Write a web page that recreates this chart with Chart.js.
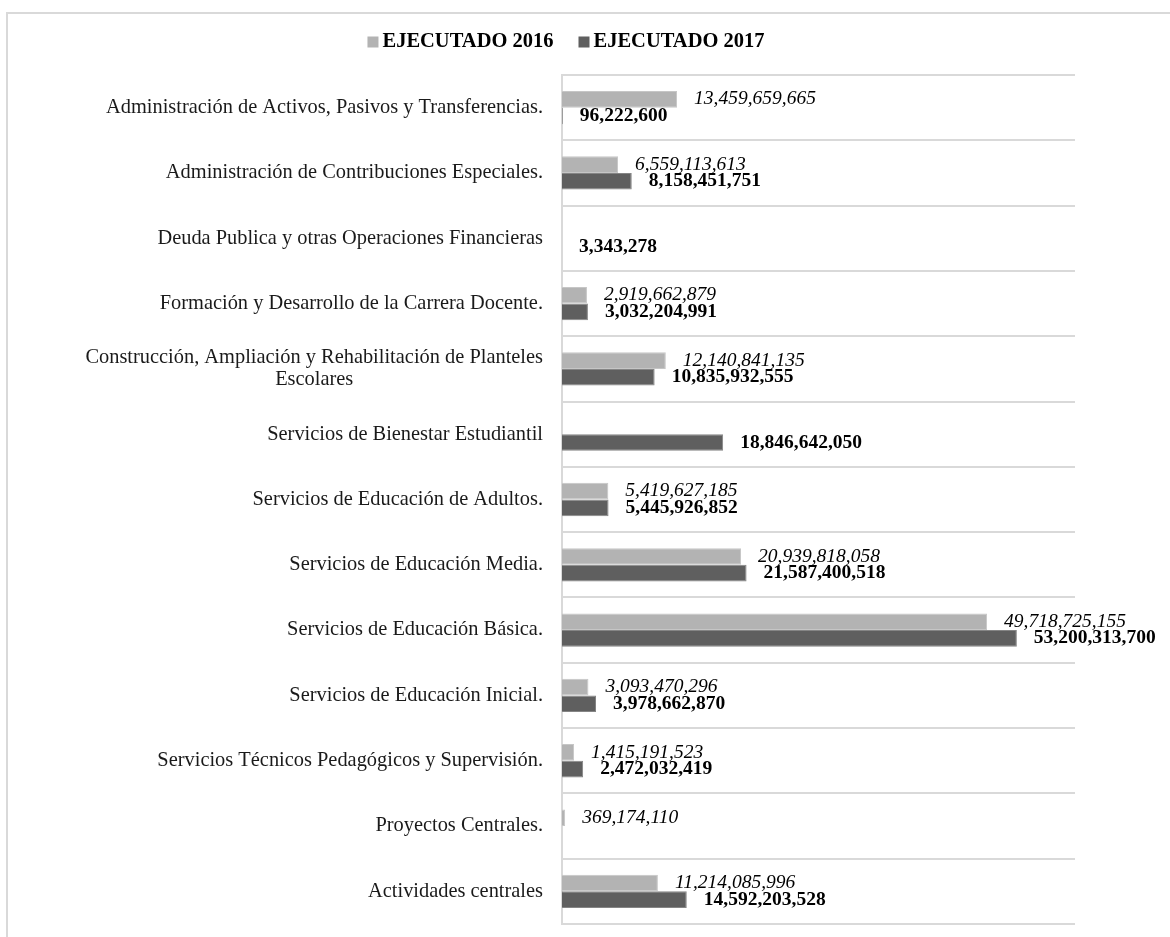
<!DOCTYPE html>
<html>
<head>
<meta charset="utf-8">
<script src="https://cdn.jsdelivr.net/npm/chart.js@4.4.1/dist/chart.umd.min.js"></script>
<style>
  html, body { margin: 0; padding: 0; background: #fff; overflow: hidden; }
  #frame { position: absolute; left: 6px; top: 12px; width: 1300px; height: 1100px; border: 2px solid #d9d9d9; }
  #wrap { position: absolute; left: 0; top: 0; width: 1170px; height: 937px; }
</style>
</head>
<body>
<div id="frame"></div>
<div id="wrap"><canvas id="budget"></canvas></div>
<script>
// programas presupuestarios (de arriba hacia abajo)
var programas = [
  "Administración de Activos, Pasivos y Transferencias.",
  "Administración de Contribuciones Especiales.",
  "Deuda Publica y otras Operaciones Financieras",
  "Formación y Desarrollo de la Carrera Docente.",
  ["Construcción, Ampliación y Rehabilitación de Planteles", "Escolares"],
  "Servicios de Bienestar Estudiantil",
  "Servicios de Educación de Adultos.",
  "Servicios de Educación Media.",
  "Servicios de Educación Básica.",
  "Servicios de Educación Inicial.",
  "Servicios Técnicos Pedagógicos y Supervisión.",
  "Proyectos Centrales.",
  "Actividades centrales"
];

var ejecutado2016 = [13459659665, 6559113613, null, 2919662879, 12140841135, null,
  5419627185, 20939818058, 49718725155, 3093470296, 1415191523, 369174110, 11214085996];

var ejecutado2017 = [96222600, 8158451751, 3343278, 3032204991, 10835932555, 18846642050,
  5445926852, 21587400518, 53200313700, 3978662870, 2472032419, null, 14592203528];

var serif = "'Liberation Serif', 'Times New Roman', serif";

// etiquetas de valores al final de cada barra
var valueLabels = {
  id: 'valueLabels',
  afterDatasetsDraw: function(chart) {
    var ctx = chart.ctx;
    ctx.save();
    ctx.textBaseline = 'middle';
    ctx.textAlign = 'left';
    ctx.fillStyle = '#000';
    chart.data.datasets.forEach(function(ds, di) {
      var meta = chart.getDatasetMeta(di);
      ctx.font = (di === 0 ? 'italic ' : 'bold ') + '19.5px ' + serif;
      meta.data.forEach(function(bar, i) {
        var v = ds.data[i];
        if (v === null || v === undefined) return;
        ctx.fillText(v.toLocaleString('en-US'), bar.x + 17, bar.y);
      });
    });
    ctx.restore();
  }
};

// nombres de categorias (la linea partida va centrada)
var categoryLabels = {
  id: 'categoryLabels',
  afterDraw: function(chart) {
    var ctx = chart.ctx;
    var y = chart.scales.y;
    var right = chart.chartArea.left - 19;
    ctx.save();
    ctx.font = '20.4px ' + serif;
    ctx.fillStyle = '#1a1a1a';
    ctx.textBaseline = 'middle';
    chart.data.labels.forEach(function(lab, i) {
      var py = y.getPixelForTick(i);
      if (Array.isArray(lab)) {
        var w = Math.max.apply(null, lab.map(function(s) { return ctx.measureText(s).width; }));
        var lh = 22;
        ctx.textAlign = 'center';
        lab.forEach(function(s, k) {
          ctx.fillText(s, right - w / 2, py + (k - (lab.length - 1) / 2) * lh);
        });
      } else {
        ctx.textAlign = 'right';
        ctx.fillText(lab, right, py);
      }
    });
    ctx.restore();
  }
};

// leyenda arriba
var topLegend = {
  id: 'topLegend',
  afterDraw: function(chart) {
    var ctx = chart.ctx;
    ctx.save();
    ctx.font = 'bold 20.5px ' + serif;
    ctx.textBaseline = 'middle';
    ctx.textAlign = 'left';
    var box = 11, gap = 4, itemGap = 25;
    var items = chart.data.datasets.map(function(ds) {
      return { text: ds.label, color: ds.backgroundColor, w: box + gap + ctx.measureText(ds.label).width };
    });
    var total = items.reduce(function(a, it) { return a + it.w; }, 0) + itemGap * (items.length - 1);
    var x = 566 - total / 2;
    var cy = 42;
    items.forEach(function(it) {
      ctx.fillStyle = it.color;
      ctx.fillRect(x, cy - box / 2, box, box);
      ctx.fillStyle = '#000';
      ctx.fillText(it.text, x + box + gap, cy);
      x += it.w + itemGap;
    });
    ctx.restore();
  }
};

new Chart('budget', {
  type: 'bar',
  data: {
    labels: programas,
    datasets: [
      {
        label: 'EJECUTADO 2016',
        data: ejecutado2016,
        backgroundColor: '#b3b3b3',
        borderColor: '#c6c6c6',
        borderWidth: 1
      },
      {
        label: 'EJECUTADO 2017',
        data: ejecutado2017,
        backgroundColor: '#5f5f5f',
        borderColor: '#858585',
        borderWidth: 1
      }
    ]
  },
  options: {
    indexAxis: 'y',
    responsive: true,
    maintainAspectRatio: false,
    animation: false,
    layout: {
      padding: { left: 0, right: 95, top: 75, bottom: 13 }
    },
    categoryPercentage: 0.51,
    barPercentage: 1,
    plugins: {
      legend: { display: false },
      tooltip: { enabled: false }
    },
    scales: {
      x: {
        display: false,
        min: 0,
        max: 60000000000
      },
      y: {
        ticks: { display: false },
        grid: {
          offset: true,
          color: '#d9d9d9',
          lineWidth: 2,
          drawTicks: false
        },
        border: { display: true, color: '#d9d9d9', width: 2 },
        afterFit: function(scale) { scale.width = 562; }
      }
    }
  },
  plugins: [valueLabels, categoryLabels, topLegend]
});
</script>
</body>
</html>
